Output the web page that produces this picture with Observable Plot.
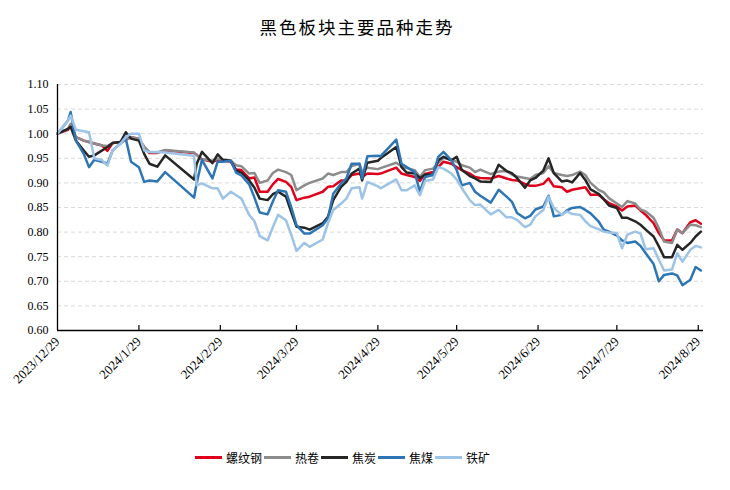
<!DOCTYPE html>
<html><head><meta charset="utf-8">
<script src="https://cdn.jsdelivr.net/npm/d3@7"></script>
<script src="https://cdn.jsdelivr.net/npm/@observablehq/plot@0.6"></script>
<style>
html,body{margin:0;padding:0;background:#fff;}
body{width:730px;height:490px;overflow:hidden;position:relative;}
#title{position:absolute;left:0;top:0;width:714px;height:54px;line-height:54px;text-align:center;font-family:"Noto Sans CJK SC",sans-serif;font-size:17.5px;letter-spacing:2px;color:#000;}
#chart{position:absolute;left:0;top:50px;}
#legend{position:absolute;left:195px;top:449px;display:flex;align-items:center;font-family:"Noto Sans CJK SC",sans-serif;font-size:12px;color:#000;}
.item{display:flex;align-items:center;margin-right:2px;}
.swatch{width:27px;height:3px;margin-right:4px;}
</style></head><body>
<div id="title">黑色板块主要品种走势</div>
<div id="chart"></div>
<div id="legend"></div>
<script>
const dates = [
"2023-12-29","2024-01-02","2024-01-03","2024-01-05","2024-01-08","2024-01-10","2024-01-12","2024-01-15","2024-01-17","2024-01-19",
"2024-01-22","2024-01-24","2024-01-26","2024-01-29","2024-01-31","2024-02-02","2024-02-05","2024-02-08","2024-02-19","2024-02-20",
"2024-02-22","2024-02-26","2024-02-28","2024-03-01","2024-03-04","2024-03-06","2024-03-08","2024-03-11","2024-03-13","2024-03-15",
"2024-03-18","2024-03-20","2024-03-22","2024-03-25","2024-03-27","2024-03-29","2024-04-01","2024-04-03","2024-04-08","2024-04-10",
"2024-04-12","2024-04-15","2024-04-17","2024-04-19","2024-04-22","2024-04-23","2024-04-25","2024-04-29","2024-04-30","2024-05-06",
"2024-05-08","2024-05-10","2024-05-13","2024-05-15","2024-05-17","2024-05-20","2024-05-22","2024-05-24","2024-05-27","2024-05-29",
"2024-05-31","2024-06-03","2024-06-05","2024-06-07","2024-06-11","2024-06-14","2024-06-17","2024-06-19","2024-06-21","2024-06-24",
"2024-06-26","2024-06-28","2024-07-01","2024-07-03","2024-07-05","2024-07-08","2024-07-10","2024-07-12","2024-07-15","2024-07-17",
"2024-07-19","2024-07-22","2024-07-24","2024-07-26","2024-07-29","2024-07-31","2024-08-02","2024-08-05","2024-08-07","2024-08-09",
"2024-08-12","2024-08-14","2024-08-16","2024-08-19","2024-08-21","2024-08-23","2024-08-26","2024-08-28","2024-08-30"];

const rebar = [
1.000,1.008,1.017,0.993,0.986,0.983,0.980,0.976,0.965,0.981,
0.983,0.988,0.993,0.990,0.973,0.961,0.961,0.966,0.961,0.957,
0.948,0.943,0.947,0.946,0.943,0.927,0.926,0.909,0.911,0.882,
0.882,0.897,0.908,0.902,0.892,0.865,0.870,0.872,0.882,0.892,
0.893,0.905,0.905,0.916,0.919,0.912,0.919,0.918,0.919,0.931,
0.919,0.916,0.912,0.904,0.918,0.922,0.932,0.943,0.939,0.932,
0.926,0.919,0.912,0.910,0.909,0.914,0.909,0.906,0.905,0.898,
0.894,0.894,0.898,0.909,0.893,0.891,0.882,0.886,0.889,0.891,
0.876,0.876,0.867,0.859,0.852,0.844,0.852,0.854,0.844,0.835,
0.818,0.798,0.783,0.783,0.805,0.798,0.820,0.824,0.817];

const hotCoil = [
1.000,1.010,1.020,0.993,0.986,0.983,0.980,0.976,0.975,0.981,
0.983,0.988,0.993,0.990,0.973,0.963,0.962,0.967,0.962,0.957,
0.948,0.945,0.949,0.947,0.945,0.936,0.934,0.919,0.920,0.900,
0.905,0.920,0.927,0.922,0.916,0.885,0.895,0.900,0.909,0.919,
0.916,0.922,0.922,0.934,0.939,0.922,0.931,0.928,0.930,0.941,
0.934,0.930,0.926,0.912,0.926,0.929,0.941,0.951,0.947,0.943,
0.936,0.931,0.922,0.927,0.918,0.923,0.924,0.917,0.913,0.910,
0.908,0.916,0.920,0.934,0.920,0.916,0.914,0.916,0.923,0.916,
0.900,0.886,0.881,0.869,0.858,0.851,0.863,0.858,0.846,0.842,
0.829,0.808,0.781,0.778,0.805,0.798,0.815,0.814,0.810];

const coke = [
1.000,1.010,1.014,0.986,0.966,0.953,0.956,0.966,0.973,0.981,
0.983,1.003,0.990,0.986,0.959,0.939,0.933,0.956,0.907,0.939,
0.963,0.940,0.958,0.947,0.945,0.925,0.921,0.905,0.890,0.868,
0.865,0.877,0.882,0.872,0.841,0.811,0.809,0.805,0.818,0.831,
0.865,0.892,0.902,0.919,0.929,0.905,0.941,0.945,0.950,0.973,
0.932,0.921,0.919,0.910,0.917,0.916,0.946,0.953,0.946,0.953,
0.926,0.914,0.909,0.903,0.902,0.937,0.924,0.920,0.910,0.890,
0.905,0.910,0.925,0.950,0.920,0.903,0.905,0.901,0.920,0.906,
0.887,0.878,0.867,0.854,0.849,0.829,0.829,0.822,0.815,0.805,
0.791,0.771,0.749,0.749,0.774,0.764,0.778,0.791,0.801];

const cokingCoal = [
1.000,1.027,1.044,0.986,0.959,0.932,0.947,0.943,0.939,0.966,
0.980,0.990,0.943,0.932,0.902,0.905,0.903,0.922,0.870,0.899,
0.947,0.909,0.943,0.943,0.945,0.921,0.915,0.897,0.870,0.840,
0.836,0.862,0.885,0.882,0.851,0.814,0.797,0.797,0.814,0.828,
0.878,0.899,0.909,0.939,0.939,0.909,0.954,0.955,0.954,0.988,
0.939,0.932,0.922,0.882,0.912,0.916,0.953,0.963,0.946,0.926,
0.895,0.900,0.882,0.874,0.860,0.886,0.872,0.862,0.839,0.828,
0.833,0.846,0.852,0.874,0.832,0.835,0.844,0.849,0.851,0.845,
0.838,0.822,0.805,0.801,0.793,0.783,0.778,0.781,0.772,0.757,
0.735,0.700,0.713,0.716,0.712,0.692,0.703,0.729,0.722];

const ironOre = [
1.000,1.027,1.037,1.008,1.005,1.003,0.950,0.946,0.935,0.966,
0.980,0.993,1.000,1.000,0.966,0.963,0.963,0.962,0.955,0.895,
0.899,0.889,0.889,0.868,0.882,0.875,0.868,0.835,0.822,0.792,
0.783,0.810,0.835,0.824,0.795,0.762,0.778,0.770,0.785,0.818,
0.845,0.858,0.868,0.889,0.891,0.868,0.902,0.893,0.889,0.907,
0.885,0.885,0.895,0.875,0.904,0.907,0.932,0.929,0.919,0.907,
0.889,0.865,0.855,0.856,0.836,0.845,0.830,0.830,0.825,0.810,
0.815,0.832,0.845,0.872,0.849,0.835,0.842,0.837,0.835,0.822,
0.812,0.806,0.801,0.799,0.798,0.767,0.795,0.801,0.797,0.765,
0.767,0.744,0.722,0.724,0.757,0.740,0.764,0.772,0.769];

const seriesNames = ["螺纹钢","热卷","焦炭","焦煤","铁矿"];
const seriesColors = ["#e0001b","#8c8c8c","#262626","#2e75b6","#9dc3e6"];
const xTickLabels = ["2023/12/29","2024/1/29","2024/2/29","2024/3/29","2024/4/29","2024/5/29","2024/6/29","2024/7/29","2024/8/29"];
const yTicks = [0.60,0.65,0.70,0.75,0.80,0.85,0.90,0.95,1.00,1.05,1.10];

const seriesValues = [rebar, hotCoil, coke, cokingCoal, ironOre];
const data = seriesNames.flatMap((name, s) =>
  dates.map((d, i) => ({date: new Date(d + "T00:00:00Z"), value: seriesValues[s][i], name})));
const xTicks = xTickLabels.map(s => {
  const [y, m, d] = s.split("/").map(Number);
  return new Date(Date.UTC(y, m - 1, d));
});
const xDomain = [new Date(Date.UTC(2023, 11, 29)), new Date(Date.UTC(2024, 7, 31))];
const yDomain = [yTicks[0], yTicks[yTicks.length - 1]];

const chart = Plot.plot({
  width: 730,
  height: 390,
  marginTop: 34,
  marginBottom: 110,
  marginLeft: 57,
  marginRight: 27,
  style: {fontFamily: "'Liberation Serif', serif", fontSize: "12px", color: "#000", background: "#fff", overflow: "visible"},
  x: {type: "utc", domain: xDomain},
  y: {domain: yDomain},
  color: {domain: seriesNames, range: seriesColors},
  marks: [
    Plot.gridY(yTicks.slice(1), {stroke: "#d9d9d9", strokeOpacity: 1, strokeDasharray: "4,3", strokeWidth: 1}),
    Plot.axisY(yTicks, {tickSize: 0, tickPadding: 9, tickFormat: d => d.toFixed(2), label: null, fontSize: 12}),
    Plot.line(data, {x: "date", y: "value", z: "name", stroke: "name", strokeWidth: 2.5, strokeLinejoin: "round", curve: "linear"}),
    Plot.ruleY([yDomain[0]], {stroke: "#000", strokeWidth: 1.3}),
    Plot.ruleX([xDomain[0]], {stroke: "#000", strokeWidth: 1.3}),
    Plot.ruleX(xTicks.slice(1), {y1: yDomain[0], y2: yDomain[0] + 0.01, stroke: "#000", strokeWidth: 1.2}),
    Plot.axisX(xTicks, {tickSize: 0, tickPadding: 9, tickRotate: -45, tickFormat: (d, i) => xTickLabels[i], label: null, fontSize: 13})
  ]
});
document.getElementById("chart").appendChild(chart);

const legend = document.getElementById("legend");
seriesNames.forEach((name, i) => {
  const item = document.createElement("div");
  item.className = "item";
  const sw = document.createElement("div");
  sw.className = "swatch";
  sw.style.background = seriesColors[i];
  const label = document.createElement("span");
  label.textContent = name;
  item.appendChild(sw);
  item.appendChild(label);
  legend.appendChild(item);
});
</script>
</body></html>
